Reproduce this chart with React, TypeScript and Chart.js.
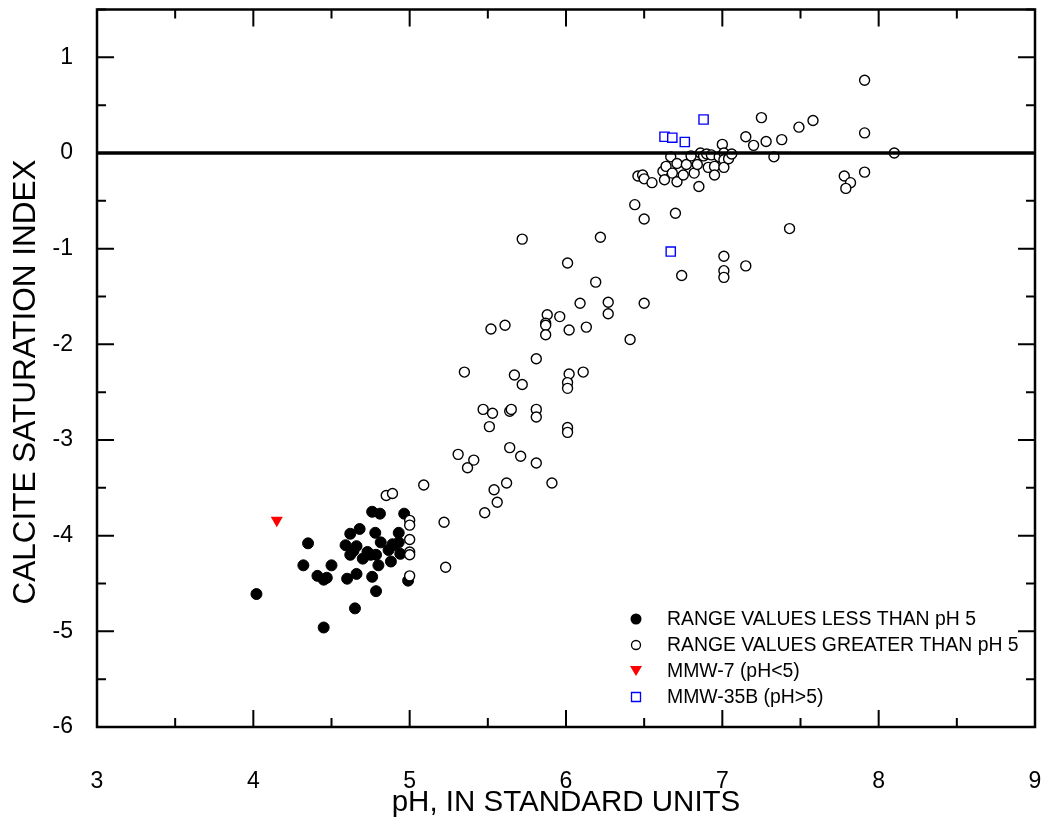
import React, { useEffect, useRef } from "react";
import { Chart, registerables } from "chart.js";

Chart.register(...registerables);

// ---- Data (pH, calcite saturation index) ----
const LESS_PH: number[] = [4.02, 4.35, 4.32, 4.41, 4.45, 4.47, 4.5, 4.45, 4.65, 4.6, 4.66, 4.62, 4.68, 4.59, 4.66, 4.62, 4.64, 4.7, 4.73, 4.78, 4.76, 4.81, 4.785, 4.815, 4.8, 4.76, 4.785, 4.865, 4.88, 4.89, 4.93, 4.93, 4.94, 4.965, 4.99, 4.75, 4.9];
const LESS_SI: number[] = [-4.61, -4.08, -4.31, -4.42, -4.46, -4.44, -4.31, -4.96, -4.76, -4.45, -4.4, -3.98, -3.93, -4.1, -4.11, -4.2, -4.16, -4.24, -4.17, -3.97, -3.75, -3.77, -4.2, -4.07, -4.31, -4.43, -4.58, -4.15, -4.27, -4.09, -3.97, -4.07, -4.19, -3.77, -4.47, -4.2, -4.1];

const GREATER_PH: number[] = [
  6.46, 6.49, 6.5, 6.55, 6.62, 6.63, 6.64, 6.67, 6.68, 6.71, 6.71, 6.75, 6.77, 6.8, 6.82, 6.84, 6.85, 6.86, 6.88, 6.9, 6.91, 6.93, 6.95, 6.95, 6.98, 7.0, 7.01, 7.01, 7.01, 7.04, 7.06,
  7.15, 7.2, 7.25, 7.28, 7.33, 7.38, 7.49, 7.58, 7.91, 7.91, 7.91, 8.1, 7.78, 7.82, 7.79, 7.43, 6.44, 6.5, 6.7, 6.74, 7.01, 7.01, 7.01, 7.15,
  5.72, 6.22, 6.01, 6.19, 6.09, 6.27, 6.27, 6.5, 5.88, 5.87, 5.87, 5.87, 5.96, 6.02, 6.13, 6.41, 5.52, 5.61, 5.81, 5.35, 5.67, 5.72, 6.02, 6.01, 6.01, 6.11,
  5.47, 5.53, 5.51, 5.64, 5.65, 5.81, 5.81, 6.01, 6.01, 5.31, 5.41, 5.37, 5.64, 5.71, 5.81, 5.09, 5.62, 5.91, 5.54, 5.56, 5.48, 5.22, 5.23, 4.85, 4.89,
  5.0, 5.0, 5.0, 5.0, 5.0, 5.0,
];
const GREATER_SI: number[] = [
  -0.24, -0.23, -0.27, -0.31, -0.19, -0.28, -0.14, -0.04, -0.21, -0.11, -0.3, -0.23, -0.12, -0.03, -0.21, -0.12, -0.35, 0.0, -0.03, -0.01, -0.15, -0.02, -0.14, -0.23, -0.04, 0.09, 0.0, -0.07, -0.15, -0.06, -0.01,
  0.17, 0.08, 0.37, 0.12, -0.04, 0.14, 0.27, 0.34, 0.76, 0.21, -0.2, 0.0, -0.24, -0.31, -0.37, -0.79, -0.54, -0.69, -0.63, -1.28, -1.08, -1.23, -1.3, -1.18,
  -0.9, -0.88, -1.15, -1.35, -1.57, -1.56, -1.68, -1.57, -1.69, -1.78, -1.8, -1.9, -1.71, -1.85, -1.82, -1.95, -1.84, -1.8, -2.15, -2.29, -2.32, -2.42, -2.31, -2.4, -2.46, -2.29,
  -2.68, -2.72, -2.86, -2.7, -2.68, -2.68, -2.76, -2.87, -2.92, -3.15, -3.21, -3.29, -3.08, -3.17, -3.24, -3.47, -3.45, -3.45, -3.52, -3.65, -3.76, -3.86, -4.33, -3.58, -3.56,
  -3.84, -3.89, -4.04, -4.17, -4.2, -4.42,
];

const MMW7_PH: number[] = [4.15];
const MMW7_SI: number[] = [-3.84];

const MMW35B_PH: number[] = [6.63, 6.68, 6.76, 6.88, 6.67];
const MMW35B_SI: number[] = [0.17, 0.16, 0.115, 0.35, -1.03];

const SERIES_LABELS: string[] = [
  "RANGE VALUES LESS THAN pH 5",
  "RANGE VALUES GREATER THAN pH 5",
  "MMW-7 (pH<5)",
  "MMW-35B (pH>5)",
];

const X_TITLE = "pH, IN STANDARD UNITS";
const Y_TITLE = "CALCITE SATURATION INDEX";

const X_MIN = 3, X_MAX = 9, Y_MIN = -6, Y_MAX = 1.5;
const ZERO_LINE = 0;

const FONT = "'Liberation Sans', Arial, Helvetica, sans-serif";

const pts = (xs: number[], ys: number[]) => xs.map((x, i) => ({ x, y: ys[i] }));

const framePlugin = {
  id: "frame",
  afterDatasetsDraw(chart: any) {
    const { ctx, chartArea: a, scales } = chart;
    const xs = scales.x, ys = scales.y;
    ctx.save();
    // zero line
    const y0 = ys.getPixelForValue(ZERO_LINE);
    ctx.strokeStyle = "#000";
    ctx.lineWidth = 3.5;
    ctx.beginPath();
    ctx.moveTo(a.left, y0);
    ctx.lineTo(a.right, y0);
    ctx.stroke();
    // inward ticks on all sides
    ctx.lineWidth = 2;
    const MAJ = 17, MIN = 9;
    for (let v = X_MIN; v <= X_MAX + 1e-9; v += 0.5) {
      const px = xs.getPixelForValue(v);
      const len = Math.abs(v - Math.round(v)) < 1e-9 ? MAJ : MIN;
      ctx.beginPath();
      ctx.moveTo(px, a.bottom);
      ctx.lineTo(px, a.bottom - len);
      ctx.moveTo(px, a.top);
      ctx.lineTo(px, a.top + len);
      ctx.stroke();
    }
    for (let v = Y_MIN; v <= Y_MAX + 1e-9; v += 0.5) {
      const py = ys.getPixelForValue(v);
      const len = Math.abs(v - Math.round(v)) < 1e-9 ? MAJ : MIN;
      ctx.beginPath();
      ctx.moveTo(a.left, py);
      ctx.lineTo(a.left + len, py);
      ctx.moveTo(a.right, py);
      ctx.lineTo(a.right - len, py);
      ctx.stroke();
    }
    // frame
    ctx.lineWidth = 2.5;
    ctx.strokeRect(a.left, a.top, a.right - a.left, a.bottom - a.top);
    ctx.restore();
  },
  afterDraw(chart: any) {
    const { ctx } = chart;
    const ds = chart.data.datasets;
    ctx.save();
    // y axis title
    ctx.save();
    ctx.translate(26, 382);
    ctx.rotate(-Math.PI / 2);
    ctx.font = `31.5px ${FONT}`;
    ctx.fillStyle = "#000";
    ctx.textAlign = "center";
    ctx.textBaseline = "middle";
    ctx.fillText(Y_TITLE, 0, 0);
    ctx.restore();
    // legend
    const sx = 636, tx = 667;
    const rows = [619, 645, 671, 697];
    ctx.font = `19.4px ${FONT}`;
    ctx.fillStyle = "#000";
    ctx.textBaseline = "middle";
    ctx.textAlign = "left";
    for (let i = 0; i < 4; i++) {
      const y = rows[i];
      const d = ds[i];
      ctx.beginPath();
      ctx.lineWidth = 1.3;
      if (i === 0) {
        ctx.arc(sx, y, 5.5, 0, Math.PI * 2);
        ctx.fillStyle = "#000";
        ctx.fill();
      } else if (i === 1) {
        ctx.arc(sx, y, 4.5, 0, Math.PI * 2);
        ctx.strokeStyle = "#000";
        ctx.stroke();
      } else if (i === 2) {
        ctx.moveTo(sx - 6, y - 5);
        ctx.lineTo(sx + 6, y - 5);
        ctx.lineTo(sx, y + 5);
        ctx.closePath();
        ctx.fillStyle = "#ff0000";
        ctx.fill();
      } else {
        ctx.rect(sx - 4.5, y - 4.5, 9, 9);
        ctx.strokeStyle = "#0000ff";
        ctx.stroke();
      }
      ctx.fillStyle = "#000";
      ctx.fillText(d.label, tx, y + 1);
    }
    ctx.restore();
  },
};

export default function App() {
  const ref = useRef<HTMLCanvasElement | null>(null);
  useEffect(() => {
    if (!ref.current) return;
    const chart = new Chart(ref.current, {
      type: "scatter",
      data: {
        datasets: [
          {
            label: SERIES_LABELS[0],
            data: pts(LESS_PH, LESS_SI),
            pointStyle: "circle",
            pointRadius: 5.5,
            backgroundColor: "#000",
            borderColor: "#000",
            borderWidth: 1,
            order: 3,
          },
          {
            label: SERIES_LABELS[1],
            data: pts(GREATER_PH, GREATER_SI),
            pointStyle: "circle",
            pointRadius: 5,
            backgroundColor: "#fff",
            borderColor: "#000",
            borderWidth: 1.4,
            order: 2,
          },
          {
            label: SERIES_LABELS[2],
            data: pts(MMW7_PH, MMW7_SI),
            pointStyle: "triangle",
            rotation: 180,
            pointRadius: 7,
            backgroundColor: "#ff0000",
            borderColor: "#ff0000",
            borderWidth: 0,
            order: 1,
          },
          {
            label: SERIES_LABELS[3],
            data: pts(MMW35B_PH, MMW35B_SI),
            pointStyle: "rect",
            pointRadius: 6.5,
            backgroundColor: "#fff",
            borderColor: "#0000ff",
            borderWidth: 1.4,
            order: 0,
          },
        ],
      },
      options: {
        animation: false,
        responsive: false,
        maintainAspectRatio: false,
        layout: { padding: { left: 0, right: 13, top: 9.5, bottom: 0 } },
        plugins: { legend: { display: false }, tooltip: { enabled: false } },
        scales: {
          x: {
            type: "linear",
            min: X_MIN,
            max: X_MAX,
            grid: { display: false },
            border: { display: false },
            ticks: { stepSize: 1, padding: 33, color: "#000", font: { family: FONT, size: 23 }, includeBounds: false },
            title: {
              display: true,
              text: X_TITLE,
              color: "#000",
              font: { family: FONT, size: 29.5 },
              padding: { top: 0, bottom: 4 },
            },
            afterFit(s: any) {
              s.height = 98;
              s.paddingLeft = 0;
              s.paddingRight = 0;
            },
          },
          y: {
            type: "linear",
            min: Y_MIN,
            max: Y_MAX,
            grid: { display: false },
            border: { display: false },
            ticks: { stepSize: 1, padding: 16, color: "#000", font: { family: FONT, size: 23 }, includeBounds: false },
            title: { display: false },
            afterFit(s: any) {
              s.width = 97;
              s.paddingTop = 0;
              s.paddingBottom = 0;
            },
          },
        },
      },
      plugins: [framePlugin],
    } as any);
    return () => chart.destroy();
  }, []);
  return (
    <div style={{ position: "absolute", left: 0, top: 0, width: 1048, height: 825, background: "#fff" }}>
      <canvas ref={ref} width={1048} height={825} style={{ width: 1048, height: 825, display: "block" }} />
    </div>
  );
}
